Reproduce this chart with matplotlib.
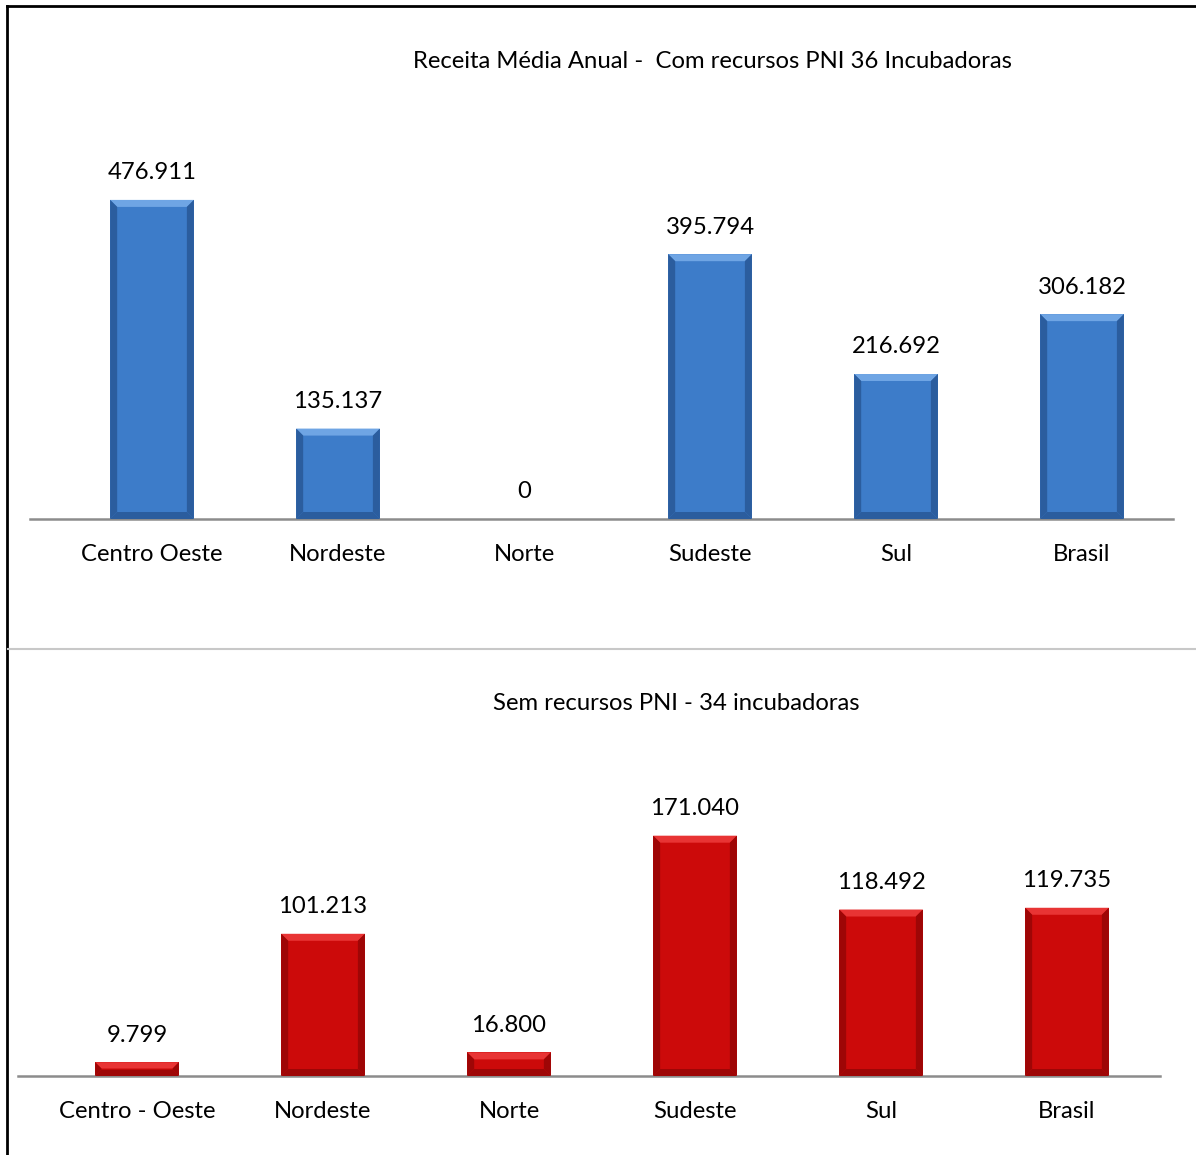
import matplotlib
matplotlib.use("Agg")
import matplotlib.pyplot as plt
from matplotlib.patches import Polygon
from matplotlib.lines import Line2D

# Receita média anual por região
cat_com = ["Centro Oeste", "Nordeste", "Norte", "Sudeste", "Sul", "Brasil"]
val_com = [476.911, 135.137, 0.0, 395.794, 216.692, 306.182]
lab_com = ["476.911", "135.137", "0", "395.794", "216.692", "306.182"]

cat_sem = ["Centro - Oeste", "Nordeste", "Norte", "Sudeste", "Sul", "Brasil"]
val_sem = [9.799, 101.213, 16.800, 171.040, 118.492, 119.735]
lab_sem = ["9.799", "101.213", "16.800", "171.040", "118.492", "119.735"]

title_com = "Receita Média Anual -  Com recursos PNI 36 Incubadoras"
title_sem = "Sem recursos PNI - 34 incubadoras"

FONT = "Lato"
FS = 17.2
W, H = 1196, 1155
DPI = 100

fig = plt.figure(figsize=(W / DPI, H / DPI), dpi=DPI)
fig.patch.set_facecolor("white")


def px_axes(x0, x1, ytop, ybot):
    return fig.add_axes([x0 / W, 1 - ybot / H, (x1 - x0) / W, (ybot - ytop) / H])


def bevel_bars(ax, bars, face, light, dark, bw=7):
    """Overlay a bevelled look on each bar, bevel width in pixels."""
    fig.canvas.draw()
    inv = ax.transData.inverted()
    for b in bars:
        x0, y0 = b.get_x(), b.get_y()
        x1, y1 = x0 + b.get_width(), y0 + b.get_height()
        if y1 - y0 <= 0:
            continue
        (px0, py0) = ax.transData.transform((x0, y0))
        (px1, py1) = ax.transData.transform((x1, y1))
        h = py1 - py0
        d = min(bw, h / 2.2)
        outer = [(px0, py0), (px1, py0), (px1, py1), (px0, py1)]
        inner = [(px0 + d, py0 + d), (px1 - d, py0 + d), (px1 - d, py1 - d), (px0 + d, py1 - d)]
        faces = [
            ([outer[3], outer[2], inner[2], inner[3]], light),   # top
            ([outer[0], outer[3], inner[3], inner[0]], dark),    # left
            ([outer[1], outer[2], inner[2], inner[1]], dark),    # right
            ([outer[0], outer[1], inner[1], inner[0]], dark),    # bottom
        ]
        for pts, c in faces:
            dpts = inv.transform(pts)
            ax.add_patch(Polygon(dpts, closed=True, facecolor=c, edgecolor="none",
                                 zorder=3))


def draw_panel(ax, cats, vals, labs, ymax, face, light, dark, xlim):
    x = list(range(len(cats)))
    bars = ax.bar(x, vals, width=0.45, color=face, zorder=2)
    ax.set_xlim(*xlim)
    ax.set_ylim(0, ymax)
    for s in ["top", "right", "left"]:
        ax.spines[s].set_visible(False)
    ax.spines["bottom"].set_color("#8c8c8c")
    ax.spines["bottom"].set_linewidth(1.8)
    ax.set_yticks([])
    ax.set_xticks(x)
    ax.set_xticklabels(cats, fontsize=FS, family=FONT, color="black")
    ax.tick_params(axis="x", length=0, pad=18)
    ax.patch.set_alpha(0)
    for xi, v, t in zip(x, vals, labs):
        ax.annotate(t, (xi, v), xytext=(0, 19.5), textcoords="offset points",
                    ha="center", va="center", fontsize=FS, family=FONT, color="black")
    bevel_bars(ax, bars, face, light, dark)


ax1 = px_axes(30, 1173, 151, 519)
draw_panel(ax1, cat_com, val_com, lab_com, 550, "#3d7cc9", "#6fa5e4", "#2b5d9e",
           (-0.656, 5.489))
fig.text(712 / W, 1 - 61 / H, title_com, ha="center", va="center",
         fontsize=FS, family=FONT, color="black")

ax2 = px_axes(18, 1160, 795, 1076)
draw_panel(ax2, cat_sem, val_sem, lab_sem, 200, "#cc0a0a", "#e83434", "#9e0606",
           (-0.64, 5.50))
fig.text(676 / W, 1 - 704 / H, title_sem, ha="center", va="center",
         fontsize=FS, family=FONT, color="black")

# frame lines
fig.add_artist(Line2D([7 / W, 1], [1 - 6 / H, 1 - 6 / H], color="black", lw=2))
fig.add_artist(Line2D([7 / W, 7 / W], [0, 1 - 6 / H], color="black", lw=2))
fig.add_artist(Line2D([8 / W, 1], [1 - 649 / H, 1 - 649 / H], color="#c8c8c8", lw=1.5))

fig.savefig("out.png", dpi=DPI)
